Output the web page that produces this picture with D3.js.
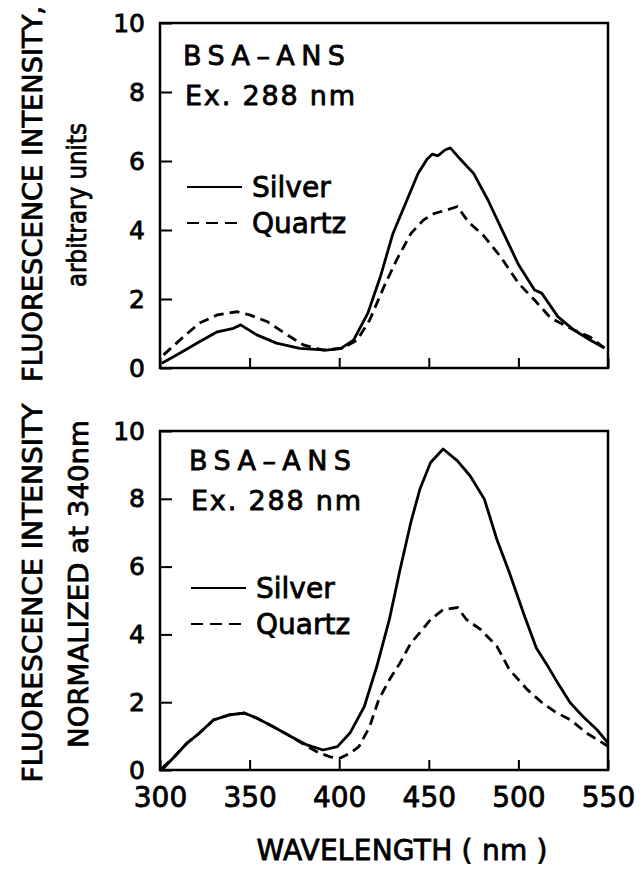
<!DOCTYPE html>
<html lang="en">

<head>
    <meta charset="utf-8" />
    <title>BSA-ANS fluorescence</title>
    <script src="https://cdn.jsdelivr.net/npm/d3@7"></script>
    <style>
        body { margin: 0; background: #fff; }
        text { font-family: "DejaVu Sans", sans-serif; fill: #000; stroke: #000; stroke-width: 0.8px; }
        .axis path { stroke: none; }
        .axis line { stroke: #000; stroke-width: 2px; }
    </style>
</head>

<body>
</body>

<script>

    // wavelength ticks and value ticks
    let xTicks = [300, 350, 400, 450, 500, 550];
    let yTicks = [0, 2, 4, 6, 8, 10];

    // top panel (arbitrary units)
    let silverTopNm = [301, 311, 322, 332, 341, 345, 354, 365, 378, 393, 401, 408, 416, 423, 430, 437, 444, 449, 452, 455, 459, 462, 468, 475, 483, 490, 500, 509, 513, 522, 531, 540, 548];
    let silverTopVal = [0.14, 0.43, 0.76, 1.05, 1.15, 1.25, 0.96, 0.72, 0.57, 0.52, 0.57, 0.81, 1.59, 2.65, 3.9, 4.77, 5.64, 6.05, 6.2, 6.15, 6.32, 6.38, 6.03, 5.64, 4.87, 4.1, 3.0, 2.26, 2.17, 1.49, 1.1, 0.81, 0.58];
    let quartzTopNm = [302, 313, 322, 332, 343, 350, 360, 371, 380, 391, 402, 410, 417, 425, 432, 440, 447, 453, 460, 466, 472, 481, 490, 500, 509, 518, 531, 540, 548];
    let quartzTopVal = [0.38, 0.9, 1.3, 1.54, 1.63, 1.54, 1.34, 0.96, 0.67, 0.52, 0.57, 0.81, 1.39, 2.36, 3.13, 3.9, 4.29, 4.48, 4.58, 4.68, 4.24, 3.81, 3.23, 2.46, 1.97, 1.45, 1.1, 0.9, 0.58];

    // bottom panel (normalized at 340 nm)
    let silverBotNm = [301, 308, 315, 322, 330, 339, 347, 354, 363, 373, 382, 391, 399, 406, 414, 421, 428, 434, 440, 445, 451, 458, 466, 473, 481, 488, 495, 503, 510, 516, 521, 529, 536, 544, 550];
    let silverBotVal = [0, 0.39, 0.79, 1.09, 1.48, 1.63, 1.68, 1.53, 1.28, 0.99, 0.74, 0.59, 0.69, 1.09, 1.87, 3.06, 4.44, 5.92, 7.31, 8.28, 9.07, 9.47, 9.12, 8.68, 7.99, 6.8, 5.82, 4.6, 3.6, 3.1, 2.65, 1.98, 1.58, 1.18, 0.79];
    let quartzBotNm = [301, 308, 315, 322, 330, 339, 347, 354, 363, 373, 382, 389, 395, 400, 406, 411, 417, 422, 428, 434, 440, 445, 451, 458, 466, 471, 479, 488, 495, 505, 514, 521, 529, 538, 550];
    let quartzBotVal = [0.05, 0.39, 0.79, 1.09, 1.48, 1.63, 1.68, 1.53, 1.28, 0.99, 0.7, 0.5, 0.39, 0.34, 0.49, 0.69, 1.28, 2.07, 2.66, 3.16, 3.75, 4.05, 4.44, 4.73, 4.79, 4.44, 4.14, 3.65, 2.96, 2.37, 1.95, 1.7, 1.48, 1.09, 0.7];

    let legendNames = ['Silver', 'Quartz'];

    let width = 644, height = 869;
    let plotLeft = 160, plotRight = 608;

    let svg = d3.select('body')
        .append('svg')
        .attr('width', width)
        .attr('height', height);

    let x = d3.scaleLinear()
        .domain([300, 550])
        .range([plotLeft, plotRight]);

    let panels = [
        { top: 23, bottom: 368, labels: false, silver: [silverTopNm, silverTopVal], quartz: [quartzTopNm, quartzTopVal], textX: 183, textY: 65, legX: 187, legY: 187 },
        { top: 431, bottom: 770, labels: true, silver: [silverBotNm, silverBotVal], quartz: [quartzBotNm, quartzBotVal], textX: 189, textY: 470, legX: 191, legY: 588 }
    ];

    panels.forEach(p => {
        let y = d3.scaleLinear()
            .domain([0, 10])
            .range([p.bottom, p.top]);

        let g = svg.append('g');

        // frame
        g.append('rect')
            .attr('x', plotLeft)
            .attr('y', p.top)
            .attr('width', plotRight - plotLeft)
            .attr('height', p.bottom - p.top)
            .attr('fill', 'none')
            .attr('stroke', '#000')
            .attr('stroke-width', 2.5);

        // x axis, ticks pointing inward
        let xAxis = d3.axisBottom(x)
            .tickValues(xTicks)
            .tickSize(-10)
            .tickPadding(17)
            .tickFormat(p.labels ? d3.format('d') : '');

        g.append('g')
            .attr('class', 'axis')
            .attr('transform', `translate(0,${p.bottom})`)
            .call(xAxis)
            .selectAll('text')
            .style('font-size', '28px');

        // y axis, ticks pointing inward
        let yAxis = d3.axisLeft(y)
            .tickValues(yTicks)
            .tickSize(-12)
            .tickPadding(15);

        g.append('g')
            .attr('class', 'axis')
            .attr('transform', `translate(${plotLeft},0)`)
            .call(yAxis)
            .selectAll('text')
            .style('font-size', '25px');

        let line = d3.line()
            .x(d => x(d[0]))
            .y(d => y(d[1]));

        g.append('path')
            .datum(d3.zip(p.silver[0], p.silver[1]))
            .attr('d', line)
            .attr('fill', 'none')
            .attr('stroke', '#000')
            .attr('stroke-width', 2.8)
            .attr('stroke-linejoin', 'round');

        g.append('path')
            .datum(d3.zip(p.quartz[0], p.quartz[1]))
            .attr('d', line)
            .attr('fill', 'none')
            .attr('stroke', '#000')
            .attr('stroke-width', 2.8)
            .attr('stroke-dasharray', '10,6');

        // sample labels
        g.append('text')
            .attr('x', p.textX)
            .attr('y', p.textY)
            .attr('textLength', 162)
            .attr('lengthAdjust', 'spacing')
            .style('font-size', '27px')
            .text('BSA\u2013ANS');

        g.append('text')
            .attr('x', p.textX + 2)
            .attr('y', p.textY + 40)
            .attr('textLength', 170)
            .attr('lengthAdjust', 'spacing')
            .style('font-size', '27px')
            .text('Ex. 288 nm');

        // legend
        let leg = g.selectAll('.legend')
            .data(legendNames)
            .enter().append('g')
            .attr('class', 'legend')
            .attr('transform', (d, i) => `translate(${p.legX},${p.legY + i * 36})`);

        leg.append('line')
            .attr('x1', 0)
            .attr('x2', 55)
            .attr('y1', 0)
            .attr('y2', 0)
            .attr('stroke', '#000')
            .attr('stroke-width', 2.2)
            .attr('stroke-dasharray', (d, i) => i ? '12,7' : null);

        leg.append('text')
            .attr('x', 65)
            .attr('y', 10)
            .style('font-size', '28px')
            .text(d => d);
    });

    // axis titles
    svg.append('text')
        .attr('transform', 'translate(42,194) rotate(-90)')
        .attr('text-anchor', 'middle')
        .attr('textLength', 376)
        .attr('lengthAdjust', 'spacingAndGlyphs')
        .style('font-size', '27px')
        .text('FLUORESCENCE INTENSITY,');

    svg.append('text')
        .attr('transform', 'translate(86,205) rotate(-90)')
        .attr('text-anchor', 'middle')
        .attr('textLength', 164)
        .attr('lengthAdjust', 'spacingAndGlyphs')
        .style('font-size', '27px')
        .text('arbitrary units');

    svg.append('text')
        .attr('transform', 'translate(42,593) rotate(-90)')
        .attr('text-anchor', 'middle')
        .attr('textLength', 379)
        .attr('lengthAdjust', 'spacingAndGlyphs')
        .style('font-size', '27px')
        .text('FLUORESCENCE INTENSITY');

    svg.append('text')
        .attr('transform', 'translate(88,584) rotate(-90)')
        .attr('text-anchor', 'middle')
        .attr('textLength', 328)
        .attr('lengthAdjust', 'spacingAndGlyphs')
        .style('font-size', '27px')
        .text('NORMALIZED at 340nm');

    svg.append('text')
        .attr('x', 402)
        .attr('y', 860)
        .attr('text-anchor', 'middle')
        .attr('textLength', 291)
        .attr('lengthAdjust', 'spacing')
        .style('font-size', '28px')
        .text('WAVELENGTH ( nm )');

</script>

</html>
